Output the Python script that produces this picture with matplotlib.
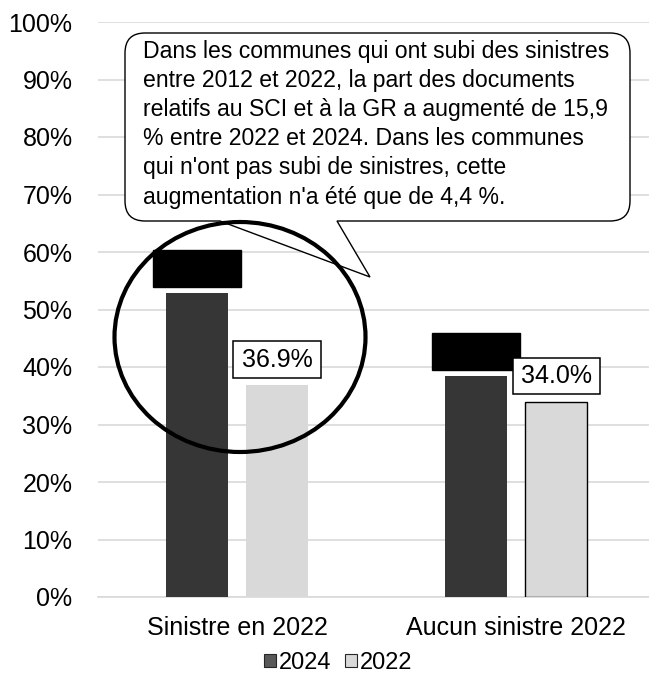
import matplotlib
matplotlib.use("Agg")
import matplotlib.pyplot as plt
import numpy as np
from matplotlib.patches import Rectangle, Ellipse, PathPatch, Patch
from matplotlib.path import Path

plt.rcParams['font.family'] = ['Liberation Sans', 'DejaVu Sans']

categories = ["Sinistre en 2022", "Aucun sinistre 2022"]
series_names = ["2024", "2022"]
values_2024 = [52.8, 38.4]
values_2022 = [36.9, 34.0]
yticks = [0, 10, 20, 30, 40, 50, 60, 70, 80, 90, 100]
callout_lines = [
    "Dans les communes qui ont subi des sinistres",
    "entre 2012 et 2022, la part des documents",
    "relatifs au SCI et à la GR a augmenté de 15,9",
    "% entre 2022 et 2024. Dans les communes",
    "qui n'ont pas subi de sinistres, cette",
    "augmentation n'a été que de 4,4 %.",
]

W, H = 649, 674
fig = plt.figure(figsize=(W / 100, H / 100), dpi=100)

def fx(px):
    return px / W

def fy(py):
    return 1 - py / H

ax_left, ax_right, ax_top, ax_bot = 97.5, 649, 22, 597
ax = fig.add_axes([fx(ax_left), fy(ax_bot), fx(ax_right - ax_left), (ax_bot - ax_top) / H])

x = np.arange(len(categories))
bw = 0.222
off = 0.143
c2024 = "#363636"
c2022 = "#d9d9d9"
FS = 18

ax.bar(x - off, values_2024, width=bw, color=c2024, zorder=3)
edges = ["none", "black"]
for i, v in enumerate(values_2022):
    ax.bar(x[i] + off, v, width=bw, color=c2022, edgecolor=edges[i], linewidth=1.0, zorder=3)

ax.set_xlim(-0.5, 1.475)
ax.set_ylim(0, 100)
ax.set_yticks(yticks)
ax.set_yticklabels([f"{t}%" for t in yticks], fontsize=FS, color="black")
ax.set_xticks(x)
ax.set_xticklabels(categories, fontsize=FS, color="black")
ax.tick_params(axis="y", length=0, pad=18)
ax.tick_params(axis="x", length=0, pad=14)
ax.grid(axis="y", color="#d9d9d9", linewidth=1.2, zorder=0)
for s in ["top", "right", "left"]:
    ax.spines[s].set_visible(False)
ax.spines["bottom"].set_color("#d9d9d9")
ax.spines["bottom"].set_linewidth(1.2)

# black boxes above 2024 bars (hidden data labels)
box_w = 0.315
for i, v in enumerate(values_2024):
    ax.add_patch(Rectangle((x[i] - off - box_w / 2, v + 1.1), box_w, 6.5,
                           facecolor="black", edgecolor="black", zorder=5))

# data labels for 2022 bars
lab_w = 0.312
for i, v in enumerate(values_2022):
    ax.add_patch(Rectangle((x[i] + off - lab_w / 2, v + 1.25), lab_w, 6.3,
                           facecolor="white", edgecolor="black", linewidth=1.1, zorder=6))
    ax.text(x[i] + off, v + 1.25 + 3.15, f"{v:.1f}%", ha="center", va="center",
            fontsize=FS, zorder=7)

# callout with pointer (figure pixel coords)
L, R, T, B, r = 125, 630, 33, 221, 20
b1, b2, tip = 220, 337, (370, 277)
verts = [
    (L + r, T), (R - r, T), (R, T), (R, T + r),
    (R, B - r), (R, B), (R - r, B),
    (b2, B), tip, (b1, B),
    (L + r, B), (L, B), (L, B - r),
    (L, T + r), (L, T), (L + r, T), (L + r, T),
]
codes = [Path.MOVETO, Path.LINETO, Path.CURVE3, Path.CURVE3,
         Path.LINETO, Path.CURVE3, Path.CURVE3,
         Path.LINETO, Path.LINETO, Path.LINETO,
         Path.LINETO, Path.CURVE3, Path.CURVE3,
         Path.LINETO, Path.CURVE3, Path.CURVE3, Path.CLOSEPOLY]
verts_f = [(fx(a), fy(b)) for a, b in verts]
fig.patches.append(PathPatch(Path(verts_f, codes), transform=fig.transFigure,
                             facecolor="white", edgecolor="black", linewidth=1.0, zorder=8))

baselines = [58, 87, 116, 145, 174, 204]
for line, by in zip(callout_lines, baselines):
    fig.text(fx(143), fy(by), line, ha="left", va="baseline", fontsize=16.6, zorder=9)

# ellipse highlighting first group
fig.patches.append(Ellipse((fx(240), fy(337)), 251 / W, 230 / H, transform=fig.transFigure,
                           facecolor="none", edgecolor="black", linewidth=3.0, zorder=10))

handles = [Patch(facecolor="#595959", edgecolor="#262626", linewidth=0.8),
           Patch(facecolor=c2022, edgecolor="#262626", linewidth=0.8)]
fig.legend(handles, series_names, loc="center", bbox_to_anchor=(fx(338), fy(663)), ncol=2,
           frameon=False, fontsize=17, handlelength=0.5, handleheight=0.5,
           handletextpad=0.12, columnspacing=0.6, borderpad=0)

fig.savefig("out.png", dpi=100)
